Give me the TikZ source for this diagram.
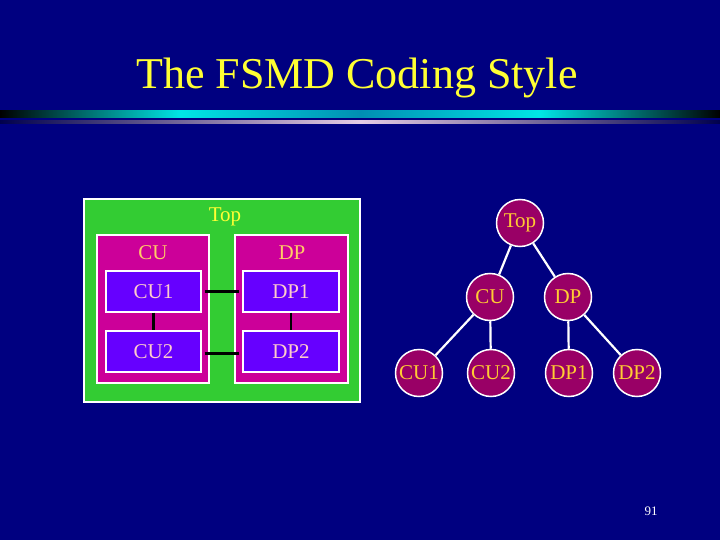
\documentclass[tikz,border=0pt]{standalone}
\usepackage{fontspec}
\setmainfont{Liberation Serif}
\begin{document}
\begin{tikzpicture}[x=1pt,y=-1pt,
  box/.style={draw=white,line width=1.2pt,minimum width=112pt,minimum height=41pt,fill=boxpurple,text=textpink,font=\fontsize{21}{21}\selectfont,inner sep=0pt},
  circ/.style={circle,draw=white,line width=1.5pt,fill=circfill,text=circtext,minimum size=47pt,inner sep=0pt,font=\fontsize{21}{21}\selectfont},
  link/.style={line width=2.2pt,black},
  tlink/.style={line width=2.2pt,white}]
\definecolor{bg}{HTML}{000080}
\definecolor{boxpurple}{HTML}{6600FF}
\definecolor{textpink}{HTML}{FFCCCC}
\definecolor{mag}{HTML}{CC0099}
\definecolor{grn}{HTML}{33CC33}
\definecolor{lbl}{HTML}{FFCC66}
\definecolor{circfill}{HTML}{990066}
\definecolor{circtext}{HTML}{FFCC33}
\definecolor{ttl}{HTML}{FFFF33}
\fill[bg] (0,0) rectangle (720,540);
\useasboundingbox (0,0) rectangle (720,540);
% bars
\shade[left color=black,right color=cyan!80!blue!70!black,middle color=cyan!80!teal] (0,111) rectangle (360,118);
\shade[right color=black,left color=cyan!80!blue!70!black,middle color=cyan!80!teal] (360,111) rectangle (720,118);
\shade[left color=bg!60!black,right color=violet!20!white] (0,121) rectangle (360,124);
\shade[right color=bg!60!black,left color=violet!20!white] (360,121) rectangle (720,124);
\node[text=ttl,font=\fontsize{44}{44}\selectfont] (title) at (357,78) {The FSMD Coding Style};
% left block
\node[draw=white,line width=1.5pt,fill=grn,minimum width=276pt,minimum height=203pt,inner sep=0pt] (top) at (222,300.5) {};
\node[text=ttl,font=\fontsize{21}{21}\selectfont] (toplbl) at (225,217) {Top};
\node[draw=white,line width=1.5pt,fill=mag,minimum width=112pt,minimum height=148pt,inner sep=0pt] (cu) at (153,309) {};
\node[draw=white,line width=1.5pt,fill=mag,minimum width=113pt,minimum height=148pt,inner sep=0pt] (dp) at (291.5,309) {};
\node[text=lbl,font=\fontsize{21}{21}\selectfont] (culbl) at (153,253) {CU};
\node[text=lbl,font=\fontsize{21}{21}\selectfont] (dplbl) at (292,253) {DP};
\node[box,minimum width=95pt] (cu1) at (153.5,291.5) {CU1};
\node[box,minimum width=95pt] (cu2) at (153.5,351.5) {CU2};
\node[box,minimum width=96pt] (dp1) at (291,291.5) {DP1};
\node[box,minimum width=96pt] (dp2) at (291,351.5) {DP2};
\draw[link,shorten <=3pt,shorten >=3pt] (cu1.east) -- (dp1.west);
\draw[link,shorten <=3pt,shorten >=3pt] ([yshift=-2pt]cu2.east) -- ([yshift=-2pt]dp2.west);
\draw[link] (cu1.south) -- (cu2.north);
\draw[link] (dp1.south) -- (dp2.north);
% tree
\node[circ] (t) at (520,223) {Top};
\node[circ] (c) at (490,297) {CU};
\node[circ] (d) at (568,297) {DP};
\node[circ] (c1) at (419,373) {CU1};
\node[circ] (c2) at (491,373) {CU2};
\node[circ] (d1) at (569,373) {DP1};
\node[circ] (d2) at (637,373) {DP2};
\draw[tlink] (t) -- (c);
\draw[tlink] (t) -- (d);
\draw[tlink] (c) -- (c1);
\draw[tlink] (c) -- (c2);
\draw[tlink] (d) -- (d1);
\draw[tlink] (d) -- (d2);
\node[text=white,font=\fontsize{13}{13}\selectfont] (pg) at (651,511) {91};
\end{tikzpicture}
\end{document}
